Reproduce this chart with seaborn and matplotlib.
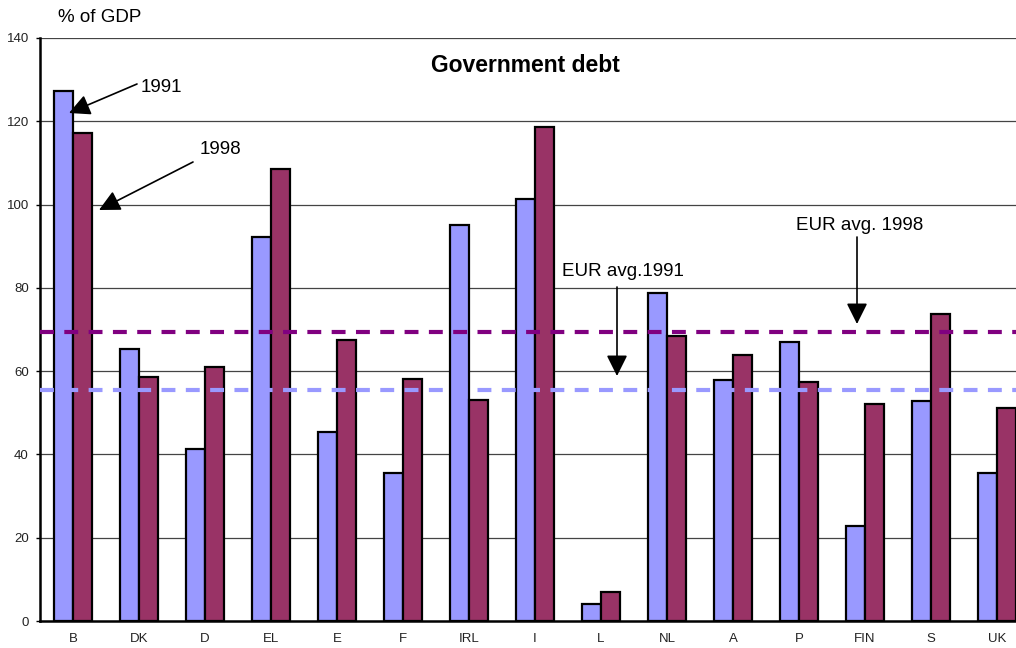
import matplotlib
matplotlib.use("Agg")
import matplotlib.pyplot as plt
import seaborn as sns
import pandas as pd

countries = ["B", "DK", "D", "EL", "E", "F", "IRL", "I", "L", "NL", "A", "P", "FIN", "S", "UK"]
debt_1991 = [127.3, 65.3, 41.3, 92.2, 45.4, 35.5, 95.1, 101.3, 4.1, 78.8, 57.9, 67.0, 22.8, 52.8, 35.5]
debt_1998 = [117.2, 58.6, 61.0, 108.5, 67.5, 58.1, 53.1, 118.6, 7.0, 68.4, 63.9, 57.4, 52.1, 73.7, 51.2]
years = ["1991", "1998"]
eur_avg_1991 = 55.5
eur_avg_1998 = 69.4

sns.set_theme(style="white")
plt.rcParams["font.family"] = ["Liberation Sans", "DejaVu Sans"]
plt.rcParams["lines.scale_dashes"] = False
plt.rcParams["text.color"] = "black"

df = pd.DataFrame({
    "country": countries * 2,
    "value": debt_1991 + debt_1998,
    "year": [years[0]] * len(countries) + [years[1]] * len(countries),
})

W, H = 1016, 648
fig = plt.figure(figsize=(W / 100, H / 100), dpi=100)
ax = fig.add_axes([40 / W, (H - 621) / H, 976 / W, 583 / H])

for y in range(20, 141, 20):
    ax.axhline(y, color="#444444", lw=0.9, zorder=0)

sns.barplot(data=df, x="country", y="value", hue="year", order=countries,
            palette={"1991": "#9999FF", "1998": "#993366"}, width=0.58,
            edgecolor="black", linewidth=1.6, legend=False, ax=ax, zorder=2,
            saturation=1)

ax.axhline(eur_avg_1998, color="#800080", lw=3, dashes=(10, 7.5), zorder=3)
ax.axhline(eur_avg_1991, color="#9999FF", lw=3, dashes=(10, 7.5), zorder=3)

ax.set_xlim(-0.5, -0.5 + 976 / 66)
ax.set_ylim(0, 140)
ax.set_yticks(range(0, 141, 20))
ax.set_xlabel("")
ax.set_ylabel("")
ax.tick_params(axis="y", labelsize=9.5, length=3, width=1, color="black", pad=5, direction="out", left=True)
ax.tick_params(axis="x", labelsize=9.5, length=0, pad=9)
for lbl in ax.get_yticklabels() + ax.get_xticklabels():
    lbl.set_color("#222222")

for s in ["top", "right"]:
    ax.spines[s].set_visible(False)
ax.spines["left"].set_color("black")
ax.spines["left"].set_linewidth(1.8)
ax.spines["bottom"].set_color("black")
ax.spines["bottom"].set_linewidth(1.8)


def px(x, y):
    return (x / W, 1 - y / H)


fig.text(*px(58, 18), "% of GDP", fontsize=13.5, va="center", ha="left", color="black")
fig.text(*px(525, 65), "Government debt", fontsize=16.5, fontweight="bold",
         va="center", ha="center", color="black")

arrow = dict(arrowstyle="-|>", color="black", lw=1.2, mutation_scale=32, shrinkA=0, shrinkB=0)

fig.text(*px(141, 88), "1991", fontsize=13.5, va="center", ha="left", color="black")
ax.annotate("", xy=px(69, 113), xycoords="figure fraction",
            xytext=px(137, 84), textcoords="figure fraction", arrowprops=arrow)

fig.text(*px(200, 150), "1998", fontsize=13.5, va="center", ha="left", color="black")
ax.annotate("", xy=px(99, 210), xycoords="figure fraction",
            xytext=px(193, 162), textcoords="figure fraction", arrowprops=arrow)

fig.text(*px(562, 272), "EUR avg.1991", fontsize=13.5, va="center", ha="left", color="black")
ax.annotate("", xy=px(617, 376), xycoords="figure fraction",
            xytext=px(617, 287), textcoords="figure fraction", arrowprops=arrow)

fig.text(*px(796, 225), "EUR avg. 1998", fontsize=13.5, va="center", ha="left", color="black")
ax.annotate("", xy=px(857, 324), xycoords="figure fraction",
            xytext=px(857, 237), textcoords="figure fraction", arrowprops=arrow)

fig.savefig("out.png", dpi=100)
